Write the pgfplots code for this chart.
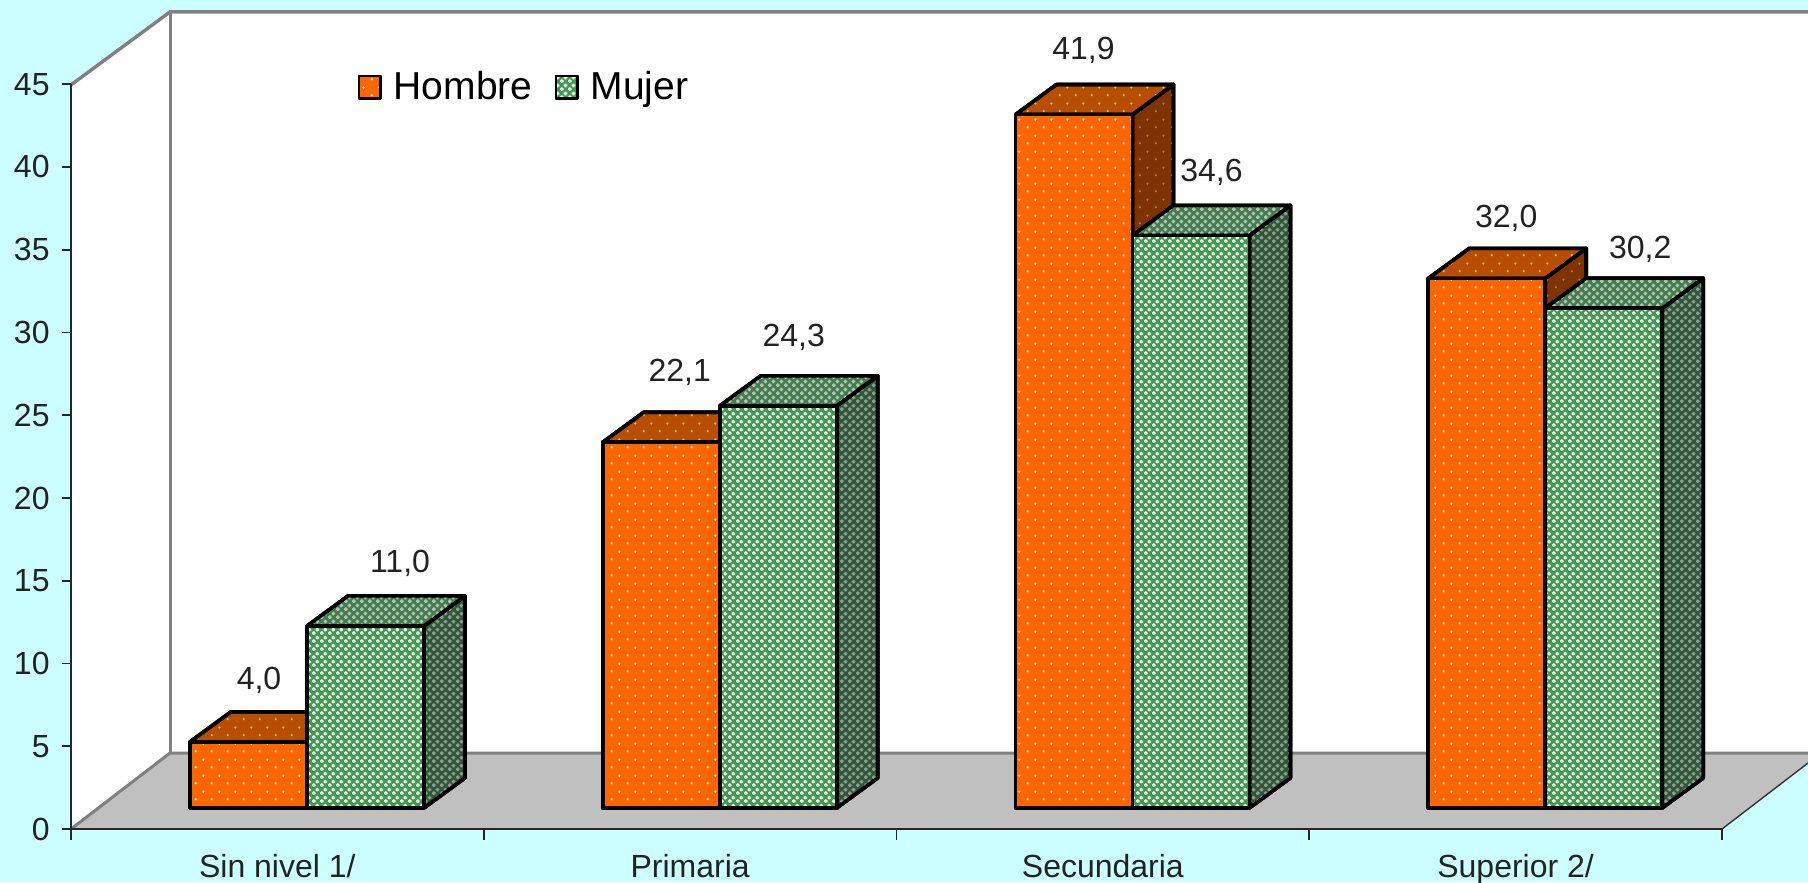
\documentclass[border=0pt]{standalone}
\usepackage{fontspec}
\setmainfont{Liberation Sans}
\usepackage{pgfplots}
\usepackage{pgfplotstable}
\usetikzlibrary{patterns}
\pgfplotsset{compat=1.18}

\definecolor{fondo}{HTML}{CCFFFF}
\definecolor{piso}{HTML}{C0C0C0}
\definecolor{pared}{HTML}{808080}
\definecolor{texto}{HTML}{222222}
\definecolor{naranja}{HTML}{FF6600}
\definecolor{naranjatop}{HTML}{B84E00}
\definecolor{naranjalado}{HTML}{7F3300}
\definecolor{verde}{HTML}{3F9A4E}
\definecolor{verdetop}{HTML}{3F7F4C}
\definecolor{verdelado}{HTML}{2C5A36}

% dots, 1 px = 0.5 pt
\pgfdeclarepatternformonly{puntos}{\pgfqpoint{0pt}{0pt}}{\pgfqpoint{8pt}{8pt}}{\pgfqpoint{8pt}{8pt}}{%
  \pgfpathcircle{\pgfqpoint{2pt}{2pt}}{0.65pt}%
  \pgfpathcircle{\pgfqpoint{6pt}{6pt}}{0.65pt}%
  \pgfusepath{fill}}
% white stars on the green
\pgfdeclarepatternformonly{estrellas}{\pgfqpoint{0pt}{0pt}}{\pgfqpoint{4pt}{4pt}}{\pgfqpoint{4pt}{4pt}}{%
  \pgfpathrectangle{\pgfqpoint{0pt}{0.52pt}}{\pgfqpoint{2pt}{0.96pt}}%
  \pgfpathrectangle{\pgfqpoint{0.52pt}{0pt}}{\pgfqpoint{0.96pt}{2pt}}%
  \pgfpathrectangle{\pgfqpoint{2pt}{2.52pt}}{\pgfqpoint{2pt}{0.96pt}}%
  \pgfpathrectangle{\pgfqpoint{2.52pt}{2pt}}{\pgfqpoint{0.96pt}{2pt}}%
  \pgfusepath{fill}}

\tikzset{
  hombre front/.style={fill=naranja, postaction={pattern=puntos, pattern color=white}},
  hombre top/.style={fill=naranjatop, postaction={pattern=puntos, pattern color=white!55!naranjatop}},
  hombre side/.style={fill=naranjalado, postaction={pattern=puntos, pattern color=white!35!naranjalado}},
  mujer front/.style={fill=verde, postaction={pattern=estrellas, pattern color=white}},
  mujer top/.style={fill=verdetop, postaction={pattern=estrellas, pattern color=piso}},
  mujer side/.style={fill=verdelado, postaction={pattern=estrellas, pattern color=gray!80}},
}

% value, label offset from the group centre and the top of the bar in px
\pgfplotstableread{
x val lx ly
0 4.0 -48 61
1 22.1 -40 70
2 41.9 -49 64
3 32.0 -39 60
}\hombre
\pgfplotstableread{
x val lx ly
0 11.0 93 63
1 24.3 74 68
2 34.6 79 63
3 30.2 95 59
}\mujer

\pgfplotsset{
  frente/.style={
    ybar, bar width=58.5pt, draw=black, line width=1.8pt, line join=round,
    nodes near coords,
    visualization depends on={\thisrow{lx} \as \lx},
    visualization depends on={\thisrow{ly} \as \ly},
    nodes near coords style={font=\fontsize{16}{18}\selectfont, text=texto, anchor=center,
      inner sep=0pt, xshift=0.5pt*\lx, yshift=0.5pt*\ly},
  },
}

% depth of a bar in axis units
\def\dxb{0.0993}
\def\dyb{1.813}
\def\anchob{0.2835}
\newcommand{\caras}[4]{% left edge of the front, value, top style, side style
  \pgfmathsetmacro\xa{#1}
  \pgfmathsetmacro\xb{#1+\anchob}
  \pgfmathsetmacro\xc{#1+\dxb}
  \pgfmathsetmacro\xd{#1+\anchob+\dxb}
  \pgfmathsetmacro\yt{#2+\dyb}
  \addplot[forget plot, draw=black, line width=1.8pt, line join=round, #4]
    coordinates {(\xb,0) (\xd,\dyb) (\xd,\yt) (\xb,#2) (\xb,0)};
  \addplot[forget plot, draw=black, line width=1.8pt, line join=round, #3]
    coordinates {(\xa,#2) (\xc,\yt) (\xd,\yt) (\xb,#2) (\xa,#2)};
}

\begin{document}
\begin{tikzpicture}
\begin{axis}[
  scale only axis,
  width=825.5pt, height=372.4pt,
  xmin=-0.5718, xmax=3.4282,
  ymin=-1.269, ymax=43.731,
  clip=false,
  axis on top,
  axis x line=bottom, axis y line=left,
  axis line style={-, line width=0.9pt, color=black!85},
  tick align=outside,
  ytick={-1.269,3.731,8.731,13.731,18.731,23.731,28.731,33.731,38.731,43.731},
  yticklabels={0,5,10,15,20,25,30,35,40,45},
  xtick={-0.0718,0.9282,1.9282,2.9282},
  xticklabels={Sin nivel 1/,Primaria,Secundaria,Superior 2/},
  minor xtick={-0.5718,0.4282,1.4282,2.4282,3.4282},
  major tick length=4.5pt,
  minor tick length=5.5pt,
  every tick/.style={black!85, line width=0.8pt},
  major x tick style={draw=none},
  minor x tick style={black!85, line width=0.8pt},
  tick label style={font=\fontsize{16}{18}\selectfont, text=texto, inner sep=0pt},
  yticklabel style={xshift=-6pt},
  xticklabel style={anchor=base, yshift=-19.5pt},
  legend style={at={(axis cs:0.528,43.55)}, anchor=center, draw=none, fill=none,
    legend columns=2, font=\fontsize{19.5}{22}\selectfont, text=black,
    /tikz/every even column/.style={column sep=9pt},
    /tikz/inner sep=0pt},
  legend image code/.code={
    \draw[#1, draw=black, line width=1.3pt, line join=round] (0pt,-5.6pt) rectangle (10.8pt,5.6pt);
    \path (14.5pt,0pt);},
  /pgf/number format/.cd, use comma, fixed, fixed zerofill, precision=1, assume math mode=true,
  /pgfplots/.cd,
]

% background, walls and floor of the 3D box
\fill[fondo] (axis cs:-0.7438,-4.471) rectangle (axis cs:3.6366,48.82);
\fill[white] (axis cs:-0.5718,43.69) -- (axis cs:-0.3319,48.10) -- (axis cs:3.6366,48.10)
  -- (axis cs:3.6366,3.323) -- (axis cs:-0.3319,3.323) -- (axis cs:-0.5718,-1.269) -- cycle;
\fill[piso] (axis cs:-0.5718,-1.269) -- (axis cs:-0.3319,3.323) -- (axis cs:3.6366,3.323)
  -- (axis cs:3.6366,2.719) -- (axis cs:3.4282,-1.269) -- cycle;
\draw[pared, line width=1.7pt] (axis cs:-0.5718,43.69) -- (axis cs:-0.3319,48.10) -- (axis cs:3.6366,48.10);
\draw[pared, line width=1.5pt] (axis cs:-0.3319,48.10) -- (axis cs:-0.3319,3.323);
\draw[pared, line width=1.5pt] (axis cs:-0.5718,-1.269) -- (axis cs:-0.3319,3.323) -- (axis cs:3.6366,3.323);
\draw[black!80, line width=0.7pt] (axis cs:3.4282,-1.269) -- (axis cs:3.6366,2.719);

% Hombre
\pgfplotsinvokeforeach{0,...,3}{
  \pgfplotstablegetelem{#1}{val}\of\hombre
  \let\valor\pgfplotsretval
  \caras{#1-\anchob}{\valor}{hombre top}{hombre side}
}
\addplot[frente, bar shift=-29.25pt, hombre front]
  table[x=x, y=val] {\hombre};
\addlegendentry{Hombre}

% Mujer
\pgfplotsinvokeforeach{0,...,3}{
  \pgfplotstablegetelem{#1}{val}\of\mujer
  \let\valor\pgfplotsretval
  \caras{#1}{\valor}{mujer top}{mujer side}
}
\addplot[frente, bar shift=29.25pt, mujer front]
  table[x=x, y=val] {\mujer};
\addlegendentry{Mujer}

\coordinate (bl) at (axis cs:-0.7438,-4.471);
\coordinate (tr) at (axis cs:3.6366,48.82);
\end{axis}
\pgfresetboundingbox
\useasboundingbox (bl) rectangle (tr);
\end{tikzpicture}
\end{document}
